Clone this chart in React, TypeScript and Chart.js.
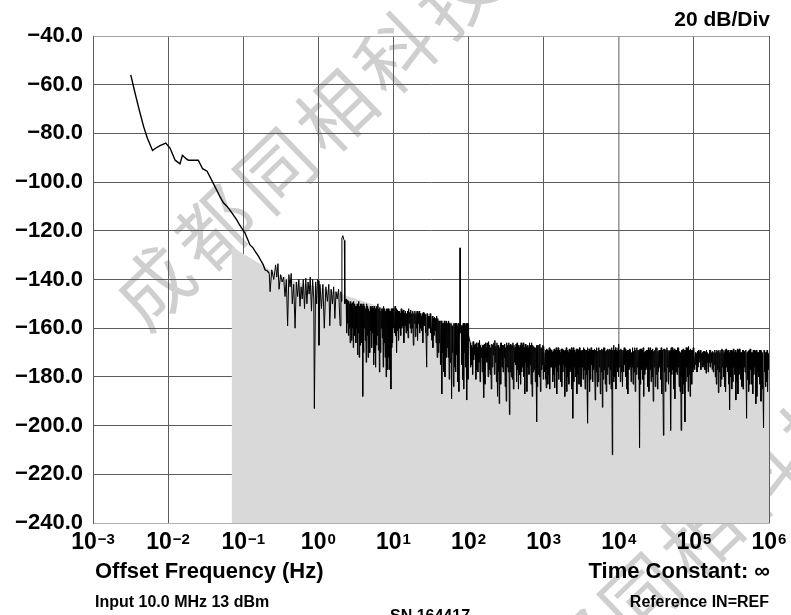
import React, { useEffect, useRef } from 'react';
import { Chart, registerables } from 'chart.js';

Chart.register(...registerables);

const FONT = '"Liberation Sans", Arial, Helvetica, sans-serif';

// ---- DATA ----
const xTickValues = [1e-3, 1e-2, 1e-1, 1e0, 1e1, 1e2, 1e3, 1e4, 1e5, 1e6];
const xTickExponents = ['\u22123', '\u22122', '\u22121', '0', '1', '2', '3', '4', '5', '6'];
const yTickValues = [-40, -60, -80, -100, -120, -140, -160, -180, -200, -220, -240];
const yTickLabels = ['\u221240.0', '\u221260.0', '\u221280.0', '\u2212100.0', '\u2212120.0', '\u2212140.0', '\u2212160.0', '\u2212180.0', '\u2212200.0', '\u2212220.0', '\u2212240.0'];

// smooth low-offset part of the trace [Hz, dBc/Hz]
const trendPoints: [number, number][] = [
  [0.00318, -56], [0.0036, -63], [0.0041, -70], [0.0047, -77], [0.0053, -82], [0.0062, -87],
  [0.0069, -86], [0.0078, -85], [0.0093, -84], [0.0106, -86], [0.0124, -91], [0.0144, -92.5],
  [0.0155, -89], [0.0175, -90.5], [0.0186, -91], [0.0252, -91], [0.0288, -94.5], [0.033, -95.5],
  [0.04, -100.5], [0.049, -106], [0.0545, -108.5], [0.061, -110], [0.0703, -112.5], [0.082, -115.5],
  [0.089, -117.5], [0.106, -121], [0.123, -125.8], [0.135, -127], [0.145, -128.6], [0.16, -130.5],
  [0.17, -132], [0.185, -134], [0.195, -136], [0.21, -136.5], [0.222, -137.5],
];

const noiseDecadeM1: [number, number][] = [
  [0.228, -145], [0.24, -136], [0.255, -140], [0.27, -134], [0.28, -139], [0.29, -133.5], [0.3, -144],
  [0.315, -138], [0.33, -141], [0.345, -139], [0.36, -147], [0.375, -140], [0.39, -159], [0.405, -138],
  [0.42, -143], [0.435, -137.5], [0.45, -150], [0.47, -142], [0.49, -160], [0.51, -141], [0.53, -147],
  [0.55, -140], [0.57, -151], [0.59, -143], [0.61, -148], [0.63, -140], [0.655, -152], [0.68, -139.5],
  [0.705, -150], [0.73, -141], [0.755, -146], [0.78, -139], [0.81, -153], [0.84, -140], [0.87, -148],
  [0.885, -193], [0.92, -141], [0.95, -150], [0.975, -140],
];

const noiseDecade0: [number, number][] = [
  [1.0, -140.5], [1.02, -167], [1.05, -142], [1.1, -152], [1.15, -142], [1.2, -160], [1.26, -143],
  [1.32, -149], [1.38, -142], [1.42, -159], [1.48, -144], [1.54, -150], [1.6, -143], [1.66, -156],
  [1.72, -145], [1.78, -148], [1.86, -144], [1.95, -159], [2.0, -145], [2.04, -149],
  [2.06, -123], [2.12, -122], [2.18, -123.5], [2.22, -124], [2.25, -150],
  [2.35, -148], [2.45, -158], [2.55, -149], [2.65, -166], [2.75, -150], [2.85, -160], [2.95, -149],
  [3.07, -163], [3.2, -151], [3.33, -171], [3.45, -149], [3.6, -167], [3.75, -150], [3.9, -188],
  [4.05, -152], [4.2, -165], [4.4, -150], [4.6, -172], [4.8, -153], [5.0, -161], [5.2, -151],
  [5.45, -175], [5.7, -152], [5.95, -167], [6.2, -150], [6.5, -178], [6.8, -153], [7.1, -164],
  [7.4, -151], [7.75, -172], [8.1, -152], [8.45, -177], [8.85, -153], [9.25, -185], [9.6, -152],
  [10.0, -160],
];
const noiseDecade0b: [number, number][] = [
  [2.38, -162], [2.42, -149], [2.48, -148.5], [2.52, -163], [2.58, -160], [2.62, -150], [2.68, -149],
  [2.72, -159], [2.78, -165], [2.82, -150], [2.88, -149.5], [2.92, -168], [2.99, -157], [3.03, -150],
  [3.11, -151], [3.16, -166], [3.24, -160], [3.29, -150], [3.37, -150], [3.41, -162], [3.5, -172],
  [3.55, -151], [3.65, -150], [3.7, -161], [3.8, -166], [3.85, -151], [3.95, -150], [4.0, -170],
  [4.1, -160], [4.15, -151], [4.27, -152], [4.33, -174], [4.47, -163], [4.53, -151], [4.67, -152],
  [4.73, -166], [4.87, -170], [4.93, -151], [5.07, -152], [5.13, -168], [5.28, -162], [5.37, -152],
  [5.53, -151], [5.62, -170], [5.78, -176], [5.87, -152], [6.03, -151], [6.12, -163], [6.3, -169],
  [6.4, -152], [6.6, -151.5], [6.7, -170], [6.9, -160], [7.0, -152], [7.2, -152], [7.3, -176],
  [7.52, -166], [7.63, -152], [7.87, -153], [7.98, -180], [8.22, -168], [8.33, -152], [8.58, -152],
  [8.72, -172], [8.98, -177], [9.12, -153], [9.37, -152], [9.48, -168], [9.73, -166], [9.87, -152],
];

const noiseDecade1: [number, number][] = [
  [10.5, -151], [11.0, -170], [11.5, -153], [12.1, -160], [12.7, -152], [13.3, -159], [14.0, -154],
  [14.7, -162], [15.4, -153], [16.2, -158], [17.0, -152.5], [17.8, -160], [18.7, -154], [19.6, -163.5],
  [20.6, -153], [21.6, -158], [22.7, -154], [23.8, -161], [25.0, -153.5], [26.2, -159], [27.0, -155],
  [27.7, -176], [29.0, -155], [30.5, -160], [31.5, -154], [32.5, -165], [34.0, -156], [35.8, -161],
  [37.6, -155], [39.5, -170], [41.5, -157], [44.0, -187], [46.0, -158], [48.5, -180], [51.0, -157],
  [53.5, -172], [56.0, -158], [59.5, -189], [62.0, -159], [65.0, -176], [68.5, -158], [72.0, -182],
  [75.5, -159], [76.6, -160], [77.0, -127], [77.4, -127], [77.8, -162], [80.0, -159], [83.5, -181],
  [87.5, -158], [91.5, -176], [95.0, -189.5], [97.5, -158], [100, -163],
];
const noiseDecade1b: [number, number][] = [
  [10.17, -153], [10.33, -162], [10.67, -163], [10.83, -152], [11.17, -152.5], [11.33, -161],
  [11.7, -165], [11.9, -153], [12.3, -154], [12.5, -163], [12.9, -160], [13.1, -153], [13.53, -152.5],
  [13.76, -166], [14.23, -159], [14.46, -153], [14.93, -154], [15.16, -161], [15.66, -164], [15.93, -152],
  [16.46, -153.5], [16.73, -160], [17.26, -162], [17.53, -154], [18.1, -153], [18.4, -167], [19.0, -158],
  [19.3, -153], [19.93, -154], [20.26, -160], [20.93, -165], [21.26, -154], [21.96, -153], [22.33, -162],
  [23.06, -160], [23.43, -155], [24.2, -154], [24.6, -166], [25.4, -159], [25.8, -154], [26.5, -154.5],
  [26.75, -162], [28.1, -154], [28.55, -163], [29.5, -160], [30.0, -155], [30.85, -154], [31.2, -162],
  [33.0, -155], [33.5, -168], [34.6, -163], [35.2, -155.5], [36.4, -156], [37.0, -166], [38.2, -172],
  [38.9, -156], [40.2, -157], [40.8, -166], [42.3, -175], [43.2, -157], [44.7, -158], [45.3, -170],
  [46.8, -178], [47.7, -157], [49.3, -158], [50.2, -172], [51.8, -168], [52.7, -158], [54.3, -157],
  [55.2, -181], [57.2, -174], [58.3, -158], [60.3, -159], [61.2, -170], [63.0, -184], [64.0, -158],
  [66.2, -158], [67.3, -178], [69.7, -171], [70.8, -159], [73.2, -158], [74.3, -186], [81.2, -175],
  [82.3, -159], [84.8, -158], [86.2, -185], [88.8, -170], [90.2, -159], [92.7, -158], [93.8, -179],
  [98.3, -181], [99.2, -159],
];

const noiseDecade2: [number, number][] = [
  [105, -166], [110, -175], [115, -165.5], [121, -171], [127, -166], [133, -178], [140, -165],
  [147, -172], [154, -167], [160, -188.5], [168, -166], [176, -174], [185, -165.5], [194, -179],
  [204, -166.5], [214, -171], [224, -165], [235, -182], [247, -167], [256, -191], [266, -166],
  [279, -176], [293, -167], [307, -184], [322, -166], [338, -178], [350, -195.5], [365, -166.5],
  [383, -181], [402, -167], [422, -175], [443, -166], [462, -185], [485, -167], [509, -178],
  [534, -166], [560, -187], [588, -167.5], [617, -176], [648, -166], [680, -183], [714, -167],
  [749, -177], [786, -168], [810, -198.5], [835, -167], [876, -180], [920, -168], [965, -175],
  [1000, -167.5],
];
const noiseDecade2b: [number, number][] = [
  [106.5, -176], [108.3, -167], [111.6, -168], [113.3, -179], [117, -173], [119, -167], [123, -166.5],
  [125, -181], [129, -177], [131, -168], [135.3, -166], [137.6, -174], [142.3, -182], [144.6, -167],
  [149.3, -168], [151.6, -178], [156, -175], [158, -167], [162.6, -166.5], [165.3, -183], [170.6, -172],
  [173.3, -168], [179, -166], [182, -180], [188, -177], [191, -167], [197.3, -168], [200.6, -185],
  [207.3, -176], [210.6, -167], [217.3, -166], [220.6, -179], [227.6, -174], [231.3, -167.5], [239, -166],
  [243, -188], [250, -178], [253, -167], [259.3, -168], [262.6, -175], [270.3, -183], [274.6, -166],
  [283.6, -167], [288.3, -178], [297.6, -172], [302.3, -166.5], [312, -168], [317, -190], [327.3, -176],
  [332.6, -167], [344, -166], [355, -167], [360, -178], [371, -180], [377, -167], [389.3, -166],
  [395.6, -185], [408.6, -174], [415.3, -168], [429, -166.5], [436, -182], [449.3, -177], [455.6, -167],
  [469.6, -168], [477.3, -179], [493, -183], [501, -166], [517.3, -167], [525.6, -176], [542.6, -180],
  [551.3, -168], [569.3, -166.5], [578.6, -174], [597.6, -186], [607.3, -167], [627.3, -168], [637.6, -179],
  [658.6, -175], [669.3, -167], [691.3, -166], [702.6, -188], [725.6, -178], [737.3, -167.5], [761.3, -168],
  [773.6, -182], [794, -176], [802, -167], [818.3, -168], [826.6, -184], [848.6, -179], [862.3, -167],
  [890.6, -166.5], [905.3, -186], [935, -177], [950, -168], [976.6, -167], [988.3, -181],
];

const noiseDecade3: [number, number][] = [
  [1050, -170], [1080, -184.5], [1120, -169], [1170, -179], [1220, -168.5], [1280, -176], [1340, -169.5],
  [1400, -184.5], [1470, -168], [1540, -178], [1610, -169], [1690, -182], [1770, -168.5], [1850, -175],
  [1940, -169], [2030, -186], [2130, -170], [2230, -178], [2340, -168], [2440, -197], [2560, -169],
  [2680, -180], [2810, -168.5], [2950, -183], [3090, -169], [3240, -176], [3400, -168], [3560, -185],
  [3740, -169], [3860, -199], [4020, -168.5], [4220, -181], [4420, -169], [4630, -177], [4850, -189.5],
  [5080, -168], [5330, -182], [5590, -169], [5860, -178], [6050, -192.5], [6300, -168], [6600, -183],
  [6920, -169], [7250, -176], [7600, -168.5], [7900, -185], [8200, -212], [8500, -167], [8900, -180],
  [9300, -169], [9700, -178], [10000, -166.5],
];
const noiseDecade3b: [number, number][] = [
  [1025, -178], [1060, -181], [1070, -169], [1093, -168.5], [1106, -177], [1136, -183], [1153, -169.5],
  [1186, -168], [1203, -185], [1240, -176], [1260, -169], [1300, -170], [1320, -182], [1360, -179],
  [1380, -168.5], [1423, -169], [1446, -176], [1493, -187], [1516, -169], [1563, -168], [1586, -181],
  [1636, -175], [1663, -170], [1716, -168.5], [1743, -184], [1796, -178], [1823, -169], [1880, -169.5],
  [1910, -188], [1970, -176], [2000, -168], [2063, -169], [2096, -180], [2163, -183], [2196, -168.5],
  [2266, -169], [2303, -177], [2373, -185], [2406, -169], [2480, -168], [2520, -182], [2600, -176],
  [2640, -170], [2723, -168.5], [2766, -187], [2856, -179], [2903, -169], [2996, -168], [3043, -176],
  [3140, -184], [3190, -169.5], [3293, -169], [3346, -181], [3453, -177], [3506, -168.5], [3620, -169],
  [3680, -179], [3780, -183], [3820, -168], [3913, -169.5], [3966, -177], [4086, -186], [4153, -169],
  [4286, -168], [4353, -175], [4490, -182], [4560, -169], [4740, -168.5], [4926, -169], [5003, -178],
  [5163, -184], [5246, -169.5], [5416, -168], [5503, -176], [5680, -187], [5770, -169], [5955, -168.5],
  [6133, -169], [6216, -181], [6400, -177], [6500, -168], [6706, -169.5], [6813, -186], [7030, -179],
  [7140, -168.5], [7366, -169], [7483, -183], [7700, -177], [7800, -169], [8050, -168], [8300, -169],
  [8400, -178], [8633, -182], [8766, -169], [9033, -168], [9166, -185], [9433, -176], [9566, -169.5],
  [9800, -168], [9900, -180],
];

const noiseDecade4: [number, number][] = [
  [10500, -182], [11000, -169], [11600, -178], [12200, -168.5], [12800, -185], [13400, -169], [14100, -176],
  [14800, -170], [15500, -183], [16300, -168], [17100, -179], [18000, -169], [18900, -209], [19800, -168.5],
  [20800, -181], [21800, -170], [22900, -177], [24000, -169], [25200, -186], [26500, -168], [27800, -180],
  [29200, -169.5], [30600, -184], [32200, -168], [33800, -178], [35500, -169], [37300, -187], [39300, -204],
  [41000, -168.5], [43000, -182], [45200, -169], [47500, -178], [49000, -202], [51500, -168], [54000, -185],
  [56700, -169], [59600, -179], [62600, -168], [65700, -186], [67600, -202], [70000, -169], [73000, -183],
  [76000, -198.5], [79000, -168], [82000, -180], [85000, -167.5], [89000, -188], [93000, -169], [97000, -178],
  [100000, -168],
];
const noiseDecade4b: [number, number][] = [
  [10160, -176], [10330, -169], [10660, -168.5], [10830, -178], [11200, -184], [11400, -169], [11800, -168],
  [12000, -175], [12400, -180], [12600, -169.5], [13000, -169], [13200, -187], [13630, -177], [13860, -168.5],
  [14330, -169], [14560, -182], [15030, -176], [15260, -168], [15760, -169.5], [16030, -178], [16560, -186],
  [16830, -169], [17400, -168], [17700, -176], [18300, -181], [18600, -169], [19200, -168.5], [19500, -183],
  [20130, -177], [20460, -169], [21130, -168], [21460, -188], [22160, -179], [22530, -169.5], [23260, -169],
  [23630, -176], [24400, -184], [24800, -168], [25630, -169], [26060, -177], [26930, -182], [27360, -169],
  [28260, -168.5], [28730, -190], [29660, -176], [30130, -169], [31130, -168], [31660, -179], [32730, -185],
  [33260, -169.5], [34360, -169], [34930, -176], [36100, -181], [36700, -168], [38300, -169], [39860, -168.5],
  [40430, -178], [41660, -186], [42330, -169], [43730, -168], [44460, -176], [45960, -183], [46730, -169.5],
  [48250, -169], [49830, -168], [50660, -179], [52330, -177], [53160, -169], [54900, -168.5], [55800, -189],
  [57660, -178], [58630, -169], [60600, -168], [61600, -176], [63630, -184], [64660, -169.5], [66650, -170],
  [68400, -169], [69200, -180], [71000, -187], [72000, -168.5], [74000, -169], [77000, -169], [78000, -182],
  [80000, -176], [81000, -169], [83000, -168], [84000, -186], [86300, -179], [87600, -169], [90300, -168.5],
  [91600, -177], [94300, -183], [95600, -169], [98000, -168], [99000, -176],
];

const noiseDecade5: [number, number][] = [
  [105000, -170], [110000, -178], [115000, -169], [120000, -172], [126000, -170.5], [132000, -176],
  [138000, -169.5], [145000, -178.5], [152000, -170], [159000, -174], [167000, -169], [175000, -177],
  [184000, -170], [193000, -180], [202000, -169], [212000, -186.5], [222000, -170], [233000, -181],
  [244000, -169], [256000, -184], [268000, -168.5], [281000, -178], [292000, -170], [300000, -193.5],
  [315000, -169], [330000, -182], [346000, -170], [362000, -189.5], [380000, -168.5], [398000, -179],
  [417000, -170], [437000, -184], [458000, -169], [480000, -178], [503000, -197], [527000, -169.5],
  [553000, -183], [580000, -170], [608000, -187], [637000, -169], [668000, -191], [700000, -170],
  [734000, -180], [770000, -169], [807000, -185], [846000, -201], [887000, -170], [930000, -182],
  [970000, -171], [1000000, -170],
];
const noiseDecade5b: [number, number][] = [
  [102500, -177], [106600, -175], [108300, -170.5], [111600, -169.5], [113300, -176], [116600, -174],
  [118300, -170], [122000, -169], [124000, -177], [128000, -173], [130000, -170], [134000, -169.5],
  [136000, -175], [140300, -177], [142600, -170], [147300, -169], [149600, -174], [154300, -178],
  [156600, -170.5], [161600, -169], [164300, -176], [169600, -174], [172300, -170], [178000, -169.5],
  [181000, -178], [187000, -175], [190000, -169], [196000, -170], [199000, -183], [205300, -177],
  [208600, -169.5], [215300, -169], [218600, -178], [225600, -184], [229300, -169], [236600, -168.5],
  [240300, -176], [248000, -180], [252000, -170], [260000, -169], [264000, -186], [272300, -176],
  [276600, -169.5], [284600, -169], [288300, -183], [295000, -177], [297500, -170], [305000, -169],
  [310000, -180], [320000, -185], [325000, -169.5], [335300, -168.5], [340600, -176], [351300, -179],
  [356600, -169], [368000, -170], [374000, -182], [386000, -187], [392000, -169], [404300, -168.5],
  [410600, -177], [423600, -181], [430300, -170], [444000, -169], [451000, -185], [465300, -176],
  [472600, -169.5], [491000, -169], [511000, -170], [519000, -181], [535600, -186], [544300, -169],
  [562000, -168.5], [571000, -177], [589300, -183], [598600, -170], [617600, -169], [627300, -179],
  [647300, -176], [657600, -169.5], [678600, -169], [689300, -188], [711300, -178], [722600, -170],
  [746000, -169], [758000, -183], [782300, -190], [794600, -169.5], [820000, -170], [859600, -169],
  [873300, -178], [901300, -184], [915600, -170], [943300, -169], [956600, -186], [980000, -177],
  [990000, -170.5],
];

// grey integration region (upper edge)
const shadePoints: [number, number][] = [
  [0.07, -126.5], [0.26, -137], [0.5, -141], [1, -143], [2, -146], [5, -150], [10, -153],
  [30, -155.5], [90, -159], [100, -162], [110, -166], [1000, -168.5], [10000, -170],
  [100000, -170.5], [1000000, -171],
];

const headerText = '20 dB/Div';
const xAxisTitle = 'Offset Frequency (Hz)';
const timeConstantText = 'Time Constant: \u221e';
const inputText = 'Input 10.0 MHz 13 dBm';
const referenceText = 'Reference IN=REF';
const serialText = 'SN 164417';
const watermarkText = '成都同相科技';

const toXY = (pts: [number, number][]) => pts.map(([x, y]) => ({ x, y }));

const tracePoints: [number, number][] = [
  ...trendPoints, ...noiseDecadeM1, ...noiseDecade0, ...noiseDecade0b, ...noiseDecade1, ...noiseDecade1b,
  ...noiseDecade2, ...noiseDecade2b, ...noiseDecade3, ...noiseDecade3b, ...noiseDecade4, ...noiseDecade4b,
  ...noiseDecade5, ...noiseDecade5b,
].sort((a, b) => a[0] - b[0]);

const watermarkPlugin = {
  id: 'watermark',
  beforeDraw(chart: any) {
    const ctx = chart.ctx as CanvasRenderingContext2D;
    ctx.save();
    ctx.fillStyle = '#cfcfcf';
    ctx.font = '76px "Noto Sans CJK SC", sans-serif';
    ctx.textAlign = 'center';
    ctx.textBaseline = 'middle';
    (ctx as any).letterSpacing = '8px';
    const centers: [number, number][] = [[308, 138], [673, 563]];
    for (const [cx, cy] of centers) {
      ctx.save();
      ctx.translate(cx, cy);
      ctx.rotate((-44 * Math.PI) / 180);
      ctx.fillText(watermarkText, 0, 0);
      ctx.restore();
    }
    ctx.restore();
  },
};

const textPlugin = {
  id: 'texts',
  afterDraw(chart: any) {
    const ctx = chart.ctx as CanvasRenderingContext2D;
    const xs = chart.scales.x;
    ctx.save();
    ctx.fillStyle = '#000';
    ctx.textBaseline = 'alphabetic';
    // x tick labels with superscript exponents
    xTickValues.forEach((v, i) => {
      const px = xs.getPixelForValue(v);
      ctx.font = `bold 23px ${FONT}`;
      const base = '10';
      const w1 = ctx.measureText(base).width;
      ctx.font = `bold 15px ${FONT}`;
      const exp = xTickExponents[i];
      const w2 = ctx.measureText(exp).width;
      const start = px - (w1 + w2 + 1) / 2;
      ctx.font = `bold 23px ${FONT}`;
      ctx.textAlign = 'left';
      ctx.fillText(base, start, 549);
      ctx.font = `bold 15px ${FONT}`;
      ctx.fillText(exp, start + w1 + 1, 544);
    });
    ctx.font = `bold 21px ${FONT}`;
    ctx.textAlign = 'right';
    ctx.fillText(headerText, 770, 26);
    ctx.font = `bold 22px ${FONT}`;
    ctx.textAlign = 'left';
    ctx.fillText(xAxisTitle, 95, 578);
    ctx.textAlign = 'right';
    ctx.fillText(timeConstantText, 770, 578);
    ctx.font = `bold 16px ${FONT}`;
    ctx.textAlign = 'left';
    ctx.fillText(inputText, 95, 607);
    ctx.textAlign = 'right';
    ctx.fillText(referenceText, 769, 607);
    ctx.textAlign = 'left';
    ctx.fillText(serialText, 390, 621);
    ctx.restore();
  },
};

export default function App() {
  const canvasRef = useRef<HTMLCanvasElement | null>(null);

  useEffect(() => {
    if (!canvasRef.current) return;
    const chart = new Chart(canvasRef.current, {
      type: 'line',
      data: {
        datasets: [
          {
            label: 'Phase noise',
            data: toXY(tracePoints),
            borderColor: '#000',
            borderWidth: 1,
            pointRadius: 0,
            tension: 0,
            fill: false,
            segment: {
              borderWidth: (c: any) => (c.p0.parsed.x < 0.222 ? 1.4 : 1),
            },
          },
          {
            label: 'Shade',
            data: toXY(shadePoints),
            borderWidth: 0,
            borderColor: 'rgba(0,0,0,0)',
            backgroundColor: '#d9d9d9',
            pointRadius: 0,
            tension: 0,
            fill: 'start',
          },
        ],
      },
      options: {
        responsive: false,
        animation: false,
        devicePixelRatio: 1,
        layout: { padding: { left: 0, top: 36, right: 22, bottom: 0 } },
        plugins: {
          legend: { display: false },
          tooltip: { enabled: false },
          title: { display: false },
        },
        scales: {
          x: {
            type: 'logarithmic',
            position: 'bottom',
            min: 1e-3,
            max: 1e6,
            z: 1,
            afterBuildTicks: (scale: any) => {
              scale.ticks = xTickValues.map((value) => ({ value }));
            },
            afterFit: (scale: any) => {
              scale.height = 92;
            },
            ticks: { display: false },
            grid: {
              drawTicks: false,
              color: (c: any) => (c.tick && c.tick.value === 1e4 ? '#9a9a9a' : '#5c5c5c'),
              lineWidth: (c: any) => (c.tick && c.tick.value === 1e4 ? 1.6 : 1),
            },
            border: { display: true, color: '#b0b0b0', width: 1 },
          },
          y: {
            type: 'linear',
            min: -240,
            max: -40,
            z: 1,
            afterFit: (scale: any) => {
              scale.width = 93;
            },
            ticks: {
              stepSize: 20,
              padding: 10,
              color: '#000',
              font: { family: FONT, size: 22, weight: 'bold' },
              callback: (value: any) => {
                const i = yTickValues.indexOf(Number(value));
                return i >= 0 ? yTickLabels[i] : '';
              },
            },
            grid: {
              drawTicks: false,
              color: (c: any) => {
                const v = c.tick && c.tick.value;
                if (v === -40) return '#a0a0a0';
                if (v === -240) return '#b0b0b0';
                return '#5c5c5c';
              },
            },
            border: { display: true, color: '#5c5c5c', width: 1 },
          },
        },
      } as any,
      plugins: [watermarkPlugin, textPlugin],
    });
    return () => chart.destroy();
  }, []);

  return (
    <div style={{ position: 'fixed', left: 0, top: 0, width: 791, height: 615, background: '#fff' }}>
      <canvas ref={canvasRef} width={791} height={615} style={{ width: 791, height: 615, display: 'block' }} />
    </div>
  );
}
